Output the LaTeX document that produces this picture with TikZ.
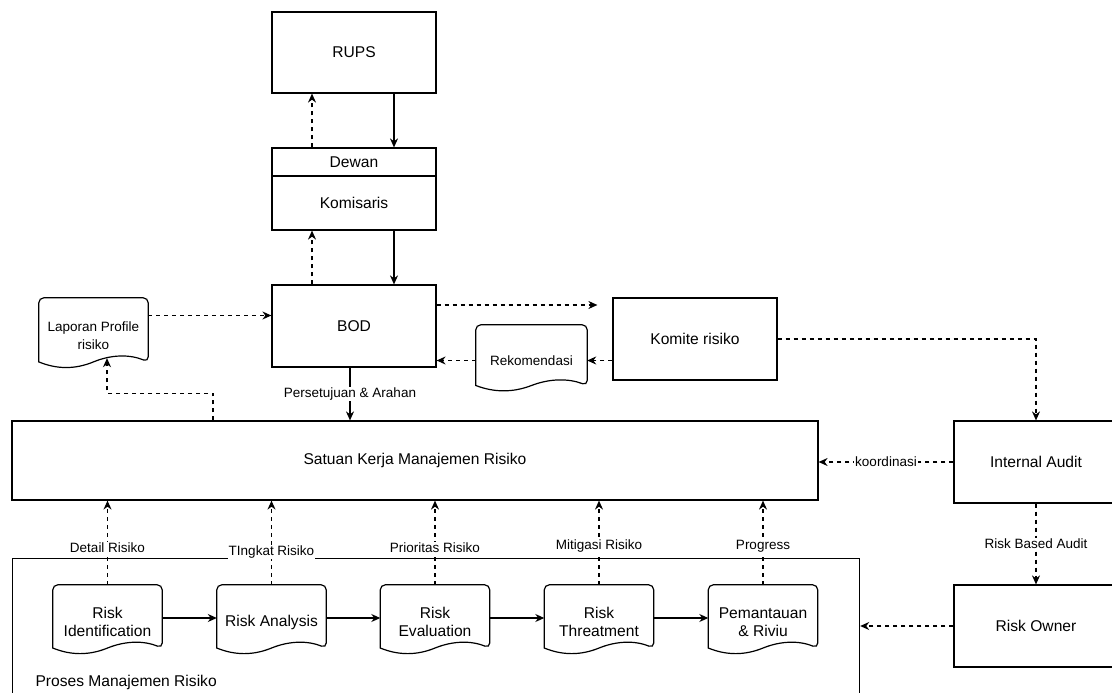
\documentclass[tikz,border=0pt]{standalone}
\usepackage{fontspec}
\setmainfont{Liberation Sans}
\usetikzlibrary{arrows.meta,calc}
\newcommand\boxfont{\fontsize{15.6pt}{18pt}\selectfont}
\newcommand\edgefont{\fontsize{13.5pt}{18pt}\selectfont}
\tikzset{
  block/.style={draw,line width=1.2pt,minimum width=164pt,minimum height=82pt,inner sep=0pt,font=\boxfont},
  docnode/.style={minimum width=109pt,minimum height=74pt,inner sep=0pt,align=center,font=\boxfont},
  link/.style={line width=1.2pt,-{Stealth[length=9pt,width=8pt]}},
  dlink/.style={link,dash pattern=on 4pt off 4pt},
  edgelabel/.style={fill=white,inner sep=1pt,font=\edgefont},
}
\begin{document}
\begin{tikzpicture}[x=1pt,y=-1pt]
\useasboundingbox (0,0) rectangle (1112,693);
% process container
\node[draw,line width=1.2pt,minimum width=847pt,minimum height=160pt,inner sep=0pt,anchor=north west] (pmr) at (12,558) {};
\node[anchor=west,font=\boxfont] (pmrtext) at (32,682) {Proses Manajemen Risiko};
% boxes
\node[block,minimum height=81pt] (rups) at (354,52.5) {RUPS};
\node[block,minimum height=28pt] (dkhead) at (354,162) {Dewan};
\node[block,minimum height=54pt] (dkbody) at (354,203) {Komisaris};
\node[block] (bod) at (354,326) {BOD};
\node[block] (kr) at (695,339) {Komite risiko};
\node[block,minimum width=806pt,minimum height=79pt] (sk) at (415,460.5) {Satuan Kerja Manajemen Risiko};
\node[block] (ia) at (1036,462) {Internal Audit};
\node[block] (ro) at (1036,626) {Risk Owner};
% documents
\node[docnode,font=\edgefont,minimum height=75pt] (lap) at (93.5,335.5) {Laporan Profile\\risiko};
\node[docnode,font=\edgefont,minimum width=111pt,minimum height=71pt] (rek) at (531.5,360.5) {Rekomendasi};
\node[docnode] (ri) at (107.5,622) {Risk\\Identification};
\node[docnode] (ra) at (271.5,622) {Risk Analysis};
\node[docnode] (re) at (435,622) {Risk\\Evaluation};
\node[docnode] (rt) at (599,622) {Risk\\Threatment};
\node[docnode] (pr) at (763,622) {Pemantauan\\\& Riviu};
\foreach \dn in {lap,rek,ri,ra,re,rt,pr}
  \draw[line width=1.2pt] let \p1=(\dn.north west), \p2=(\dn.south east), \n1={\y1-\y2}, \n2={\x2-\x1} in
    [rounded corners=5pt] (\x1,{\y2+0.15*\n1}) -- (\x1,\y1) -- (\x2,\y1) -- (\x2,{\y2+0.15*\n1}) [sharp corners]
    .. controls ({\x2-\n2/6},{\y2+0.25*\n1}) and ({\x1+\n2/2+\n2/6},{\y2+0.25*\n1}) .. ({\x1+\n2/2},{\y2+0.15*\n1})
    .. controls ({\x1+\n2/3},{\y2+0.05*\n1}) and ({\x1+\n2/6},{\y2+0.05*\n1}) .. cycle;
% top chain
\draw[link] ([xshift=40pt]rups.south) -- ([xshift=40pt]dkhead.north);
\draw[dlink] ([xshift=-42pt]dkhead.north) -- ([xshift=-42pt]rups.south);
\draw[link] ([xshift=40pt]dkbody.south) -- ([xshift=40pt]bod.north);
\draw[dlink] ([xshift=-42pt]bod.north) -- ([xshift=-42pt]dkbody.south);
\draw[dlink] ([yshift=20pt]lap.east) -- ([yshift=20pt]lap.east -| bod.west);
\draw[dlink] ([xshift=-202pt]sk.north) -- ++(0,-27) -| ([xshift=13.5pt,yshift=15pt]lap.south);
\draw[link] ([xshift=-4pt]bod.south) -- node[edgelabel]{Persetujuan \& Arahan} ([xshift=-4pt]bod.south |- sk.north);
\draw[dlink,shorten >=15pt] ([yshift=21pt]bod.east) -- ([yshift=21pt]bod.east -| kr.west);
\draw[dlink] (kr.west |- rek.east) -- (rek.east);
\draw[dlink] (rek.west) -- (rek.west -| bod.east);
\draw[dlink] (kr.east) -| (ia.north);
\draw[dlink] (ia.west) -- node[edgelabel]{koordinasi} (ia.west -| sk.east);
\draw[dlink] (ia.south) -- node[edgelabel]{Risk Based Audit} (ro.north);
\draw[dlink] (ro.west) -- (ro.west -| pmr.east);
% process steps
\foreach \a/\b in {ri/ra,ra/re,re/rt,rt/pr}
  \draw[link] ([yshift=4pt]\a.east) -- ([yshift=4pt]\b.west);
\foreach \dn/\txt/\ps in {ri/Detail Risiko/0.44,ra/TIngkat Risiko/0.39,re/Prioritas Risiko/0.44,rt/Mitigasi Risiko/0.46,pr/Progress/0.46}
  \draw[dlink] (\dn.north) -- node[edgelabel,pos=\ps]{\txt} (\dn.north |- sk.south);
\end{tikzpicture}
\end{document}
